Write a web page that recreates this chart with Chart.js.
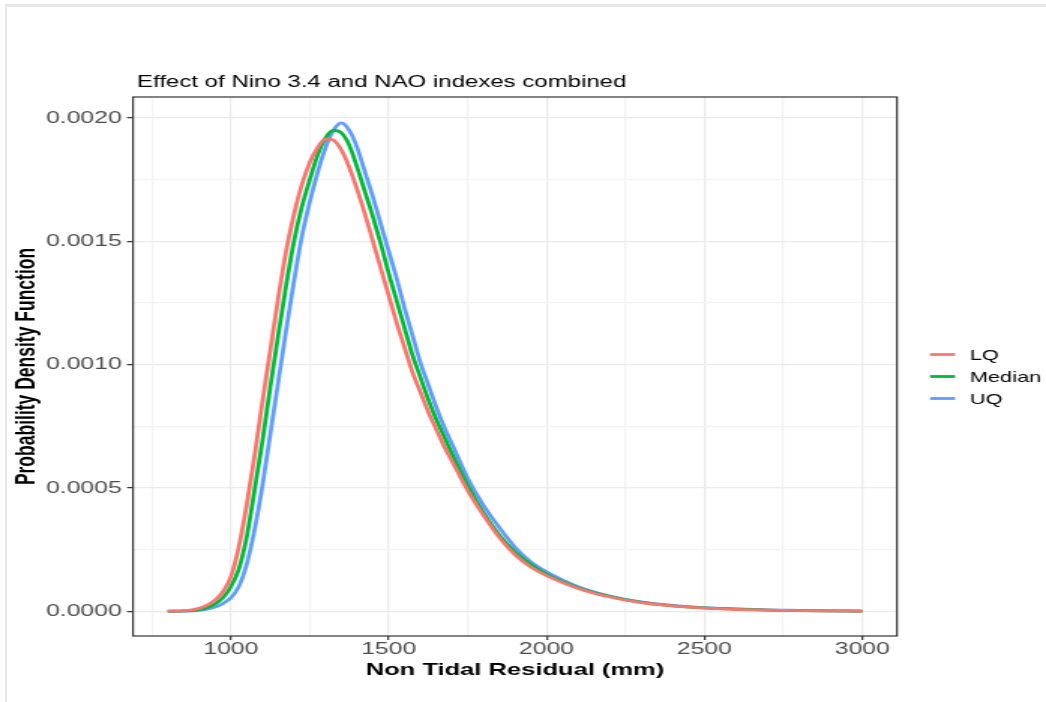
<!DOCTYPE html>
<html>
<head>
<meta charset="utf-8">
<title>Effect of Nino 3.4 and NAO indexes combined</title>
<script src="https://cdn.jsdelivr.net/npm/chart.js@4.4.1/dist/chart.umd.min.js"></script>
<style>
  html, body { margin: 0; padding: 0; background: #fff; overflow: hidden; }
  #frame { position: absolute; left: 5px; top: 4px; right: 0; bottom: 0;
           border-top: 3px solid #e8e8e8; border-left: 2px solid #e8e8e8; }
  /* the original export is stretched sideways, so draw narrow and scale up */
  #wrap { position: absolute; left: 0; top: 0; width: 697px; height: 702px;
          transform: scaleX(1.50072); transform-origin: 0 0; }
</style>
</head>
<body>
<div id="frame"></div>
<div id="wrap"><canvas id="chart"></canvas></div>
<script>
// Non tidal residual (mm)
const xValues = [800, 850, 900, 925, 950, 975, 1000, 1025, 1050, 1075, 1100, 1125, 1150, 1175,
  1200, 1225, 1250, 1275, 1300, 1325, 1350, 1375, 1400, 1425, 1450, 1475, 1500, 1525, 1550, 1575,
  1600, 1625, 1650, 1675, 1700, 1750, 1800, 1850, 1900, 1950, 2000, 2100, 2200, 2300, 2400, 2500,
  2600, 2700, 2800, 2900, 3000];

// density
const lqDensity = [0.0000005, 0.000002, 0.000012, 0.000025, 0.000045, 0.00008, 0.00014, 0.00026,
  0.00043, 0.00063, 0.00085, 0.00106, 0.00127, 0.00146, 0.00161, 0.00173, 0.00182, 0.00188,
  0.001915, 0.00191, 0.00187, 0.0018, 0.00171, 0.00161, 0.0015, 0.00139, 0.00128, 0.00117, 0.00107,
  0.00097, 0.00089, 0.00081, 0.00074, 0.00067, 0.00061, 0.00049, 0.00039, 0.0003, 0.00023,
  0.00018, 0.000145, 0.000093, 0.000058, 0.000035, 0.000022, 0.000013, 0.000008, 0.000005,
  0.000003, 0.000002, 0.000001];
const medianDensity = [0.0000003, 0.0000015, 0.000007, 0.000015, 0.00003, 0.000055, 0.0001,
  0.00017, 0.0003, 0.00049, 0.00069, 0.00091, 0.00112, 0.00132, 0.0015, 0.00164, 0.00175, 0.00185,
  0.00192, 0.00195, 0.00194, 0.00189, 0.0018, 0.0017, 0.0016, 0.00149, 0.00137, 0.00126, 0.00115,
  0.00104, 0.00095, 0.00086, 0.00078, 0.00071, 0.00064, 0.00051, 0.0004, 0.00031, 0.00024, 0.00019,
  0.00015, 0.000096, 0.00006, 0.000036, 0.000022, 0.000014, 0.000009, 0.000005, 0.000003,
  0.000002, 0.000001];
const uqDensity = [0.0000001, 0.0000008, 0.000004, 0.000009, 0.000017, 0.000032, 0.000055, 0.0001,
  0.00019, 0.00033, 0.00051, 0.00072, 0.00093, 0.00114, 0.00134, 0.00152, 0.00166, 0.00178, 0.00188,
  0.00195, 0.00198, 0.00195, 0.00188, 0.00178, 0.00168, 0.00157, 0.00146, 0.00135, 0.00123,
  0.00112, 0.00101, 0.00092, 0.00083, 0.00075, 0.00068, 0.00054, 0.00043, 0.00034, 0.00026, 0.0002,
  0.00016, 0.0001, 0.000062, 0.000038, 0.000024, 0.000015, 0.00001, 0.000006, 0.000004,
  0.000002, 0.000001];

const seriesNames = ['LQ', 'Median', 'UQ'];
const seriesColors = ['#F8766D', '#00BA38', '#619CFF'];

const xMajorTicks = [1000, 1500, 2000, 2500, 3000];
const xMinorTicks = [750, 1250, 1750, 2250, 2750];
const yMajorTicks = [0, 0.0005, 0.001, 0.0015, 0.002];
const yMinorTicks = [0.00025, 0.00075, 0.00125, 0.00175];

const chartTitle = 'Effect of Nino 3.4 and NAO indexes combined';
const FONT = '"Liberation Sans", Arial, Helvetica, sans-serif';

const toPoints = vals => xValues.map((x, i) => ({ x: x, y: vals[i] }));
const tickList = (minor, major) => minor.concat(major).sort((a, b) => a - b).map(v => ({ value: v }));

// panel border, title and legend, drawn like ggplot does
const panelExtras = {
  id: 'panelExtras',
  afterDraw(chart) {
    const { ctx, chartArea: a } = chart;
    ctx.save();
    ctx.strokeStyle = '#333333';
    ctx.lineWidth = 1.2;
    ctx.strokeRect(a.left, a.top, a.right - a.left, a.bottom - a.top);

    ctx.fillStyle = '#000';
    ctx.font = '16px ' + FONT;
    ctx.textAlign = 'left';
    ctx.textBaseline = 'alphabetic';
    ctx.fillText(chartTitle, a.left + 2.7, 87);

    ctx.font = '14.5px ' + FONT;
    ctx.textBaseline = 'middle';
    seriesNames.forEach((name, i) => {
      const y = 354.5 + i * 22;
      ctx.strokeStyle = seriesColors[i];
      ctx.lineWidth = 2.8;
      ctx.beginPath();
      ctx.moveTo(a.right + 22, y);
      ctx.lineTo(a.right + 38.7, y);
      ctx.stroke();
      ctx.fillText(name, a.right + 48.5, y + 1);
    });
    ctx.restore();
  }
};

const gridColor = major => ctx => major.includes(ctx.tick.value) ? '#ebebeb' : '#f3f3f3';
const tickMarkColor = major => ctx => major.includes(ctx.tick.value) ? '#333333' : 'rgba(0,0,0,0)';

new Chart(document.getElementById('chart'), {
  type: 'line',
  data: {
    datasets: [lqDensity, medianDensity, uqDensity].map((vals, i) => ({
      label: seriesNames[i],
      data: toPoints(vals),
      borderColor: seriesColors[i],
      backgroundColor: seriesColors[i],
      fill: false
    }))
  },
  options: {
    responsive: true,
    maintainAspectRatio: false,
    animation: false,
    devicePixelRatio: 1,
    layout: { padding: { top: 97, right: 99.3, left: 0, bottom: 0 } },
    plugins: { legend: { display: false }, tooltip: { enabled: false } },
    elements: {
      point: { radius: 0 },
      line: { borderWidth: 2.8, cubicInterpolationMode: 'monotone' }
    },
    scales: {
      x: {
        type: 'linear',
        min: 690,
        max: 3110,
        afterBuildTicks: s => { s.ticks = tickList(xMinorTicks, xMajorTicks); },
        afterFit: s => { s.height = 66; },
        border: { display: false },
        grid: { color: gridColor(xMajorTicks), lineWidth: 1.3, tickLength: 4,
                tickColor: tickMarkColor(xMajorTicks), tickWidth: 1.2 },
        ticks: {
          autoSkip: false, maxRotation: 0, padding: 0, color: '#4d4d4d',
          font: { family: FONT, size: 16.5 },
          callback: v => xMajorTicks.includes(v) ? String(v) : ''
        },
        title: {
          display: true, text: 'Non Tidal Residual (mm)', color: '#000',
          font: { family: FONT, size: 17, weight: 'bold', lineHeight: 1 },
          padding: { top: 0, bottom: 23 }
        }
      },
      y: {
        type: 'linear',
        min: -0.0001,
        max: 0.002085,
        afterBuildTicks: s => { s.ticks = tickList(yMinorTicks, yMajorTicks); },
        afterFit: s => { s.width = 88.6; },
        border: { display: false },
        grid: { color: gridColor(yMajorTicks), lineWidth: 1.3, tickLength: 4,
                tickColor: tickMarkColor(yMajorTicks), tickWidth: 1.2 },
        ticks: {
          padding: 3.5, color: '#4d4d4d',
          font: { family: FONT, size: 16.5 },
          callback: v => yMajorTicks.includes(v) ? v.toFixed(4) : ''
        },
        title: {
          display: true, text: 'Probability Density Function', color: '#000',
          font: { family: FONT, size: 17.5, weight: 'bold', lineHeight: 1 },
          padding: { top: 9, bottom: 0 }
        }
      }
    }
  },
  plugins: [panelExtras]
});
</script>
</body>
</html>
